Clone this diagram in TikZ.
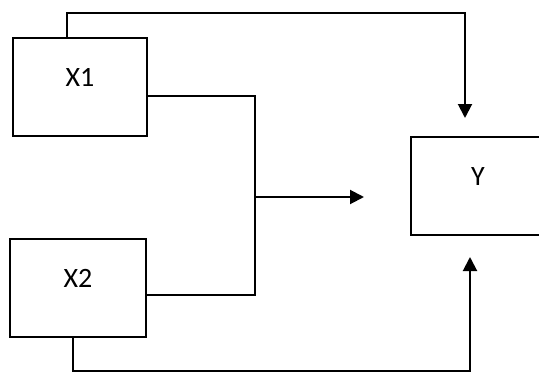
\documentclass[tikz,border=0pt]{standalone}
\usepackage{fontspec}
\setmainfont{Carlito}
\usetikzlibrary{positioning,arrows.meta}

\begin{document}
\begin{tikzpicture}[
				x=1pt, y=-1pt,
				>={Triangle[length=14pt,width=14pt]},
				box/.style={rectangle, draw, line width=2pt, fill=white, minimum width=134pt, minimum height=98pt, text depth=19pt, font=\fontsize{28}{30}\selectfont},
				link/.style={line width=2pt}
				]
				\useasboundingbox (0,0) rectangle (539,372);
				\clip (0,0) rectangle (539,372);
				
				\node[box] (x1) at (80,86.5) {X1};
				\node[box, minimum width=136pt] (x2) at (78,288) {X2};
				\node[box] (y) at (478,186) {Y};
				
				\coordinate (ytop) at (465,118);
				\coordinate (yin) at (364,197);
				\coordinate (ybot) at (470,257);
				\coordinate (join) at (255,197);
				
				\draw[->, link] ([xshift=-13pt]x1.north) |- (465,13) -- (ytop);
				\draw[link] ([yshift=-9.5pt]x1.east) -| (join) |- ([yshift=-7pt]x2.east);
				\draw[->, link] (join) -- (yin);
				\draw[->, link] ([xshift=-5pt]x2.south) |- (470,370.5) -- (ybot);
			\end{tikzpicture}
\end{document}
